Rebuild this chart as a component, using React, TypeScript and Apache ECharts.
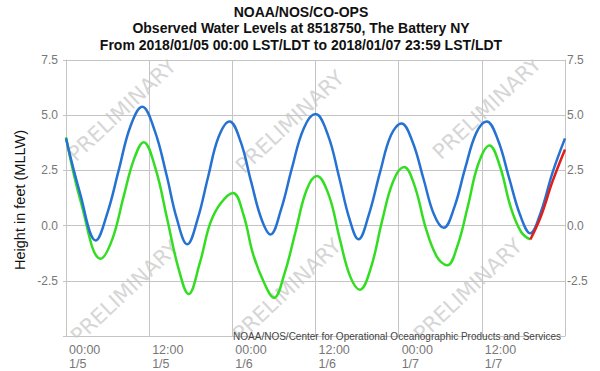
import React, { useEffect, useRef } from "react";
import * as echarts from "echarts";

// Hours since 2018/01/05 00:00
const predictedHours = [0, 2, 4.3, 6, 7.6, 9.3, 11, 12.8, 14.5, 16, 17.5, 19, 20.5, 22, 23.6, 25.2, 26.7, 28.2, 29.5, 31, 32.6, 34.3, 36, 37.8, 39.4, 40.9, 42.2, 43.7, 45.3, 46.9, 48.4, 50, 51.6, 53.1, 54.5, 56, 57.6, 59.2, 60.7, 62.3, 63.9, 65.5, 67, 68.5, 70.2, 72];
const predictedValues = [3.95, 1.5, -0.67, 0.6, 2.5, 4.5, 5.38, 4.3, 2.3, 0.3, -0.85, 0.3, 2.2, 4.0, 4.72, 3.8, 2.0, 0.3, -0.4, 0.7, 2.6, 4.4, 5.05, 4.1, 2.2, 0.3, -0.62, 0.5, 2.4, 4.1, 4.62, 3.8, 2.1, 0.5, -0.1, 0.8, 2.6, 4.2, 4.72, 3.9, 2.2, 0.5, -0.35, 0.6, 2.4, 3.95];

const observedHours = [0, 2.2, 5, 6.7, 8.3, 9.8, 11.2, 12.9, 14.6, 16.2, 17.7, 19.3, 20.8, 22.3, 24.1, 25.6, 27, 28.6, 30, 31.5, 33.1, 34.7, 36.2, 37.9, 39.5, 41, 42.4, 44, 45.6, 47.2, 48.8, 50.3, 51.9, 53.5, 55, 56.5, 58, 59.5, 61.1, 62.6, 64.2, 65.7, 67];
const observedValues = [4.0, 1.0, -1.5, -0.6, 1.3, 3.0, 3.78, 2.6, 0.3, -1.9, -3.1, -1.7, 0.1, 1.0, 1.48, 0.5, -1.3, -2.6, -3.27, -2.2, -0.3, 1.6, 2.25, 1.4, -0.6, -2.3, -2.9, -1.9, 0.2, 2.0, 2.65, 1.8, -0.1, -1.4, -1.8, -0.9, 0.9, 2.8, 3.63, 2.7, 0.8, -0.3, -0.63];

const preliminaryHours = [67, 68.5, 70.2, 72];
const preliminaryValues = [-0.63, 0.4, 2.0, 3.45];

const timeLabels = ["00:00", "12:00", "00:00", "12:00", "00:00", "12:00"];
const dateLabels = ["1/5", "1/5", "1/6", "1/6", "1/7", "1/7"];

const titleLines = [
  "NOAA/NOS/CO-OPS",
  "Observed Water Levels at 8518750, The Battery NY",
  "From 2018/01/05 00:00 LST/LDT to 2018/01/07 23:59 LST/LDT",
];
const yAxisTitle = "Height in feet (MLLW)";
const credit = "NOAA/NOS/Center for Operational Oceanographic Products and Services";
const watermark = "PRELIMINARY";

const pairs = (xs: number[], ys: number[]) => xs.map((x, i) => [x, ys[i]]);

export default function App() {
  const ref = useRef<HTMLDivElement>(null);
  useEffect(() => {
    if (!ref.current) return;
    const chart = echarts.init(ref.current, null, { renderer: "svg" });
    const font = "Liberation Sans";
    const gridColor = "#c4c4c4";
    const labelColor = "#777";
    const wmSpots = [
      [122, 110], [290, 122], [487, 108],
      [125, 292], [287, 290], [468, 290],
    ];
    const titleY = [12, 28, 45];
    const yLabelFmt = (v: number) => (Math.abs(v + 5) < 1e-6 ? "" : v.toFixed(1));
    chart.setOption({
      animation: false,
      grid: { left: 66, right: 35, top: 60, bottom: 34 },
      xAxis: {
        type: "value",
        min: 0,
        max: 72,
        interval: 12,
        axisLine: { show: true, lineStyle: { color: gridColor } },
        axisTick: { show: false },
        splitLine: { show: true, lineStyle: { color: gridColor, width: 1 } },
        axisLabel: {
          align: "left",
          margin: 7,
          padding: [0, 0, 0, 3],
          color: labelColor,
          fontFamily: font,
          fontSize: 12.5,
          lineHeight: 14,
          showMaxLabel: false,
          formatter: (v: number) => {
            const i = Math.round(v / 12);
            return i < timeLabels.length ? timeLabels[i] + "\n" + dateLabels[i] : "";
          },
        },
      },
      yAxis: [
        {
          type: "value",
          min: -5,
          max: 7.5,
          interval: 2.5,
          position: "left",
          axisLine: { show: true, lineStyle: { color: gridColor } },
          axisTick: { show: true, length: 3, lineStyle: { color: gridColor } },
          splitLine: { show: true, lineStyle: { color: gridColor, width: 1 } },
          axisLabel: { color: labelColor, fontFamily: font, fontSize: 12, margin: 8, formatter: yLabelFmt },
        },
        {
          type: "value",
          min: -5,
          max: 7.5,
          interval: 2.5,
          position: "right",
          axisLine: { show: true, lineStyle: { color: gridColor } },
          axisTick: { show: false },
          splitLine: { show: false },
          axisLabel: { color: labelColor, fontFamily: font, fontSize: 12, margin: 2, formatter: yLabelFmt },
        },
      ],
      graphic: [
        ...wmSpots.map(([x, y]) => ({
          type: "text",
          x,
          y,
          rotation: (43 * Math.PI) / 180,
          z: -10,
          silent: true,
          style: {
            text: watermark,
            fontFamily: "DejaVu Sans",
            fontSize: 21,
            fill: "#d6d6d6",
            align: "center",
            verticalAlign: "middle",
          },
        })),
        { type: "rect", z: -5, shape: { x: 0, y: 0, width: 600, height: 59.5 }, style: { fill: "#fff" } },
        { type: "rect", z: -5, shape: { x: 0, y: 337.5, width: 600, height: 40 }, style: { fill: "#fff" } },
        { type: "rect", z: -5, shape: { x: 0, y: 0, width: 65.5, height: 371 }, style: { fill: "#fff" } },
        { type: "rect", z: -5, shape: { x: 565.5, y: 0, width: 40, height: 371 }, style: { fill: "#fff" } },
        ...titleLines.map((t, i) => ({
          type: "text",
          x: 301,
          y: titleY[i],
          z: 5,
          style: {
            text: t,
            fontFamily: font,
            fontSize: 14,
            fontWeight: "bold",
            fill: "#111",
            align: "center",
            verticalAlign: "middle",
          },
        })),
        {
          type: "text",
          x: 20,
          y: 200,
          rotation: Math.PI / 2,
          style: {
            text: yAxisTitle,
            fontFamily: font,
            fontSize: 14.5,
            fill: "#111",
            align: "center",
            verticalAlign: "middle",
          },
        },
        {
          type: "text",
          x: 561,
          y: 336,
          z: 5,
          style: {
            text: credit,
            fontFamily: font,
            fontSize: 10,
            fill: "#444",
            align: "right",
            verticalAlign: "middle",
          },
        },
      ],
      series: [
        {
          type: "line",
          name: "Predictions",
          data: pairs(predictedHours, predictedValues),
          smooth: 0.4,
          showSymbol: false,
          lineStyle: { color: "#2572d2", width: 2.5 },
          z: 3,
        },
        {
          type: "line",
          name: "Observed",
          data: pairs(observedHours, observedValues),
          smooth: 0.4,
          showSymbol: false,
          lineStyle: { color: "#33dd22", width: 2.5 },
          z: 2,
        },
        {
          type: "line",
          name: "Preliminary",
          data: pairs(preliminaryHours, preliminaryValues),
          smooth: 0.4,
          showSymbol: false,
          lineStyle: { color: "#e01e1a", width: 2.5 },
          z: 4,
        },
      ],
    });
    return () => chart.dispose();
  }, []);
  return <div ref={ref} style={{ position: "fixed", left: 0, top: 0, width: 600, height: 371, background: "#fff" }} />;
}
